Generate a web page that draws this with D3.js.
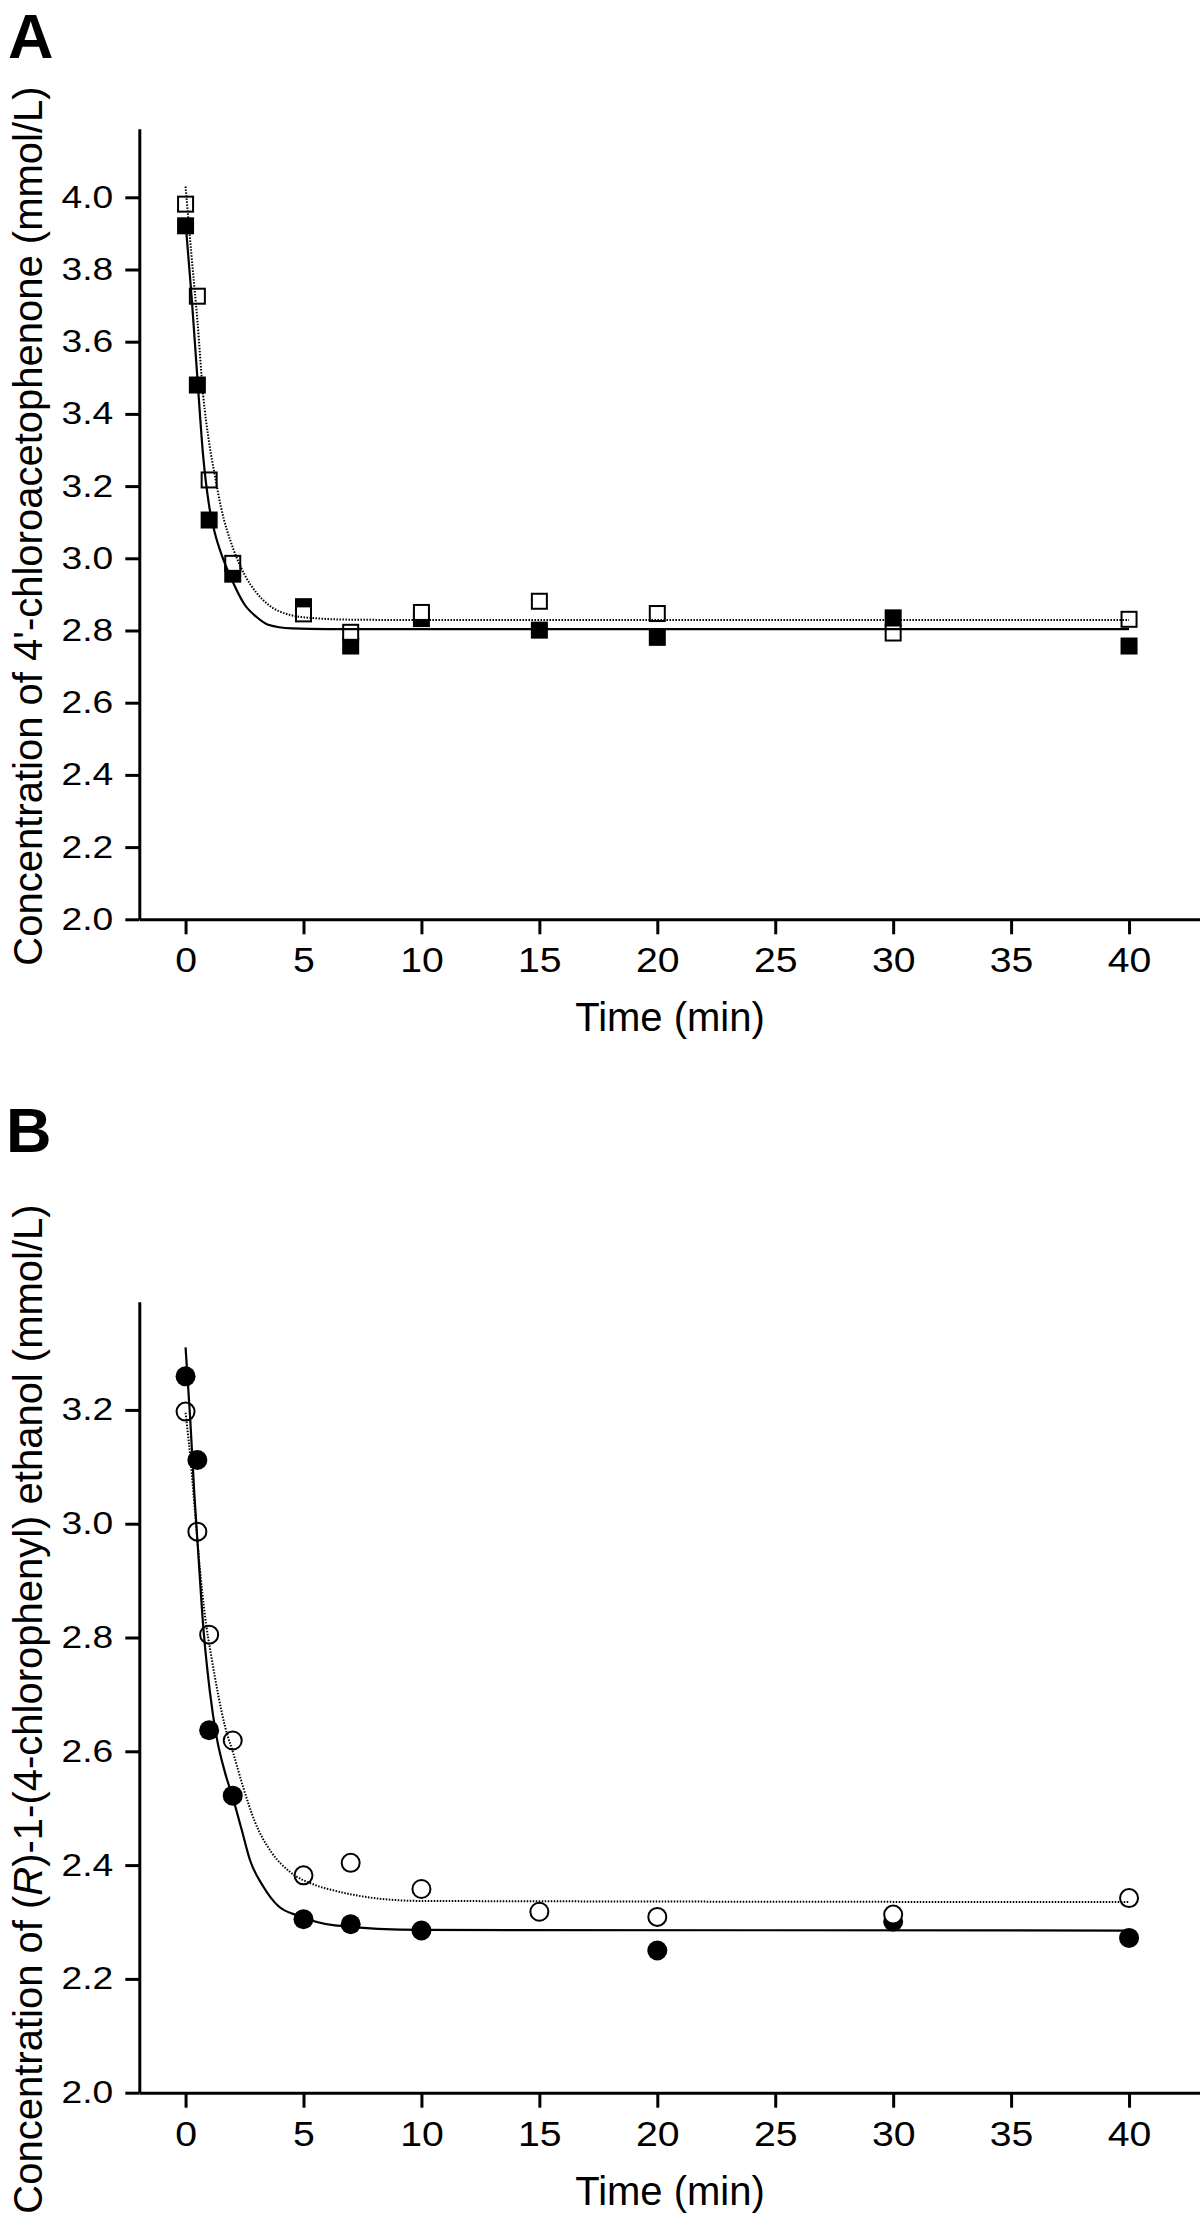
<!DOCTYPE html>
<html><head><meta charset="utf-8">
<script src="https://cdn.jsdelivr.net/npm/d3@7"></script>
<style>
body{margin:0;background:#fff}
text{font-family:"Liberation Sans",Arial,Helvetica,sans-serif;fill:#000}
</style>
</head><body>
<svg id="chart" width="1200" height="2215"></svg>
<script>
// ---------- data ----------
const times = [0, 0.5, 1, 2, 5, 7, 10, 15, 20, 30, 40];
const xTicks = [0, 5, 10, 15, 20, 25, 30, 35, 40];

// Panel A: 4'-chloroacetophenone
const ketoneClosed = [3.921, 3.480, 3.106, 2.956, 2.866, 2.757, 2.833, 2.801, 2.781, 2.835, 2.757];
const ketoneOpen   = [3.981, 3.726, 3.217, 2.986, 2.846, 2.795, 2.850, 2.881, 2.847, 2.793, 2.831];
const ketoneSolidT = [0, 0.25, 0.5, 0.75, 1.0, 1.25, 1.5, 2.0, 2.5, 3.0, 3.5, 4.5, 6, 10, 40];
const ketoneSolidV = [3.93, 3.73, 3.50, 3.28, 3.145, 3.068, 3.015, 2.935, 2.872, 2.838, 2.816, 2.806, 2.804, 2.804, 2.804];
const ketoneDotT   = [0, 0.25, 0.5, 0.75, 1.0, 1.25, 1.5, 2.0, 2.5, 3.0, 3.5, 4.5, 5.5, 7, 10, 40];
const ketoneDotV   = [4.03, 3.84, 3.66, 3.45, 3.32, 3.226, 3.142, 3.03, 2.955, 2.905, 2.872, 2.842, 2.834, 2.830, 2.829, 2.829];
const yTicksA = [2.0, 2.2, 2.4, 2.6, 2.8, 3.0, 3.2, 3.4, 3.6, 3.8, 4.0];

// Panel B: (R)-1-(4-chlorophenyl) ethanol
const alcoholClosed = [3.259, 3.112, 2.637, 2.522, 2.305, 2.296, 2.285, null, 2.250, 2.301, 2.272];
const alcoholOpen   = [3.197, 2.986, 2.805, 2.619, 2.382, 2.404, 2.358, 2.318, 2.309, 2.313, 2.342];
const alcoholSolidT = [0, 0.19, 0.37, 0.54, 0.75, 1.03, 1.32, 1.67, 2.02, 2.38, 2.73, 3.30, 3.93, 4.78, 6.33, 10, 40];
const alcoholSolidV = [3.31, 3.189, 3.054, 2.947, 2.819, 2.705, 2.624, 2.563, 2.516, 2.462, 2.409, 2.362, 2.328, 2.311, 2.294, 2.286, 2.285];
const alcoholDotT   = [0, 0.19, 0.40, 0.61, 0.82, 1.10, 1.39, 1.67, 2.02, 2.45, 2.94, 3.65, 4.43, 5.49, 6.33, 8, 10, 40];
const alcoholDotV   = [3.195, 3.122, 3.021, 2.920, 2.839, 2.765, 2.698, 2.644, 2.597, 2.536, 2.476, 2.422, 2.388, 2.365, 2.355, 2.342, 2.337, 2.335];
const yTicksB = [2.0, 2.2, 2.4, 2.6, 2.8, 3.0, 3.2];

// ---------- drawing ----------
const svg = d3.select("#chart");
const x = d3.scaleLinear().domain([-1.97, 43]).range([139.1, 1199.8]);

function drawPanel(o) {
  const g = svg.append("g");
  const y = d3.scaleLinear().domain(o.yDomain).range(o.yRange);

  // y axis
  const ya = g.append("g").attr("transform", "translate(139.3,0)")
    .call(d3.axisLeft(y).tickValues(o.yTicks).tickSize(14).tickSizeOuter(0).tickPadding(12).tickFormat(d3.format(".1f")));
  ya.selectAll("path,line").attr("stroke", "#000").attr("stroke-width", 3);
  ya.selectAll("text").attr("font-size", 31).attr("font-family", null)
    .attr("x", -26 / 1.2).attr("transform", "scale(1.2,1)");

  // x axis
  const xa = g.append("g").attr("transform", `translate(0,${o.yRange[0]})`)
    .call(d3.axisBottom(x).tickValues(xTicks).tickSize(15).tickSizeOuter(0).tickPadding(13));
  xa.selectAll("path,line").attr("stroke", "#000").attr("stroke-width", 3);
  xa.selectAll("text").attr("font-size", 35).attr("font-family", null)
    .attr("transform", "scale(1.12,1)");

  // markers: closed first, open (white fill) over them
  const closed = times.map((t, i) => [t, o.closed[i]]).filter(d => d[1] != null);
  const open = times.map((t, i) => [t, o.open[i]]).filter(d => d[1] != null);
  if (o.shape === "square") {
    g.selectAll(".c").data(closed).enter().append("rect")
      .attr("x", d => x(d[0]) - 8.5).attr("y", d => y(d[1]) - 8.5)
      .attr("width", 17).attr("height", 17).attr("fill", "#000");
    g.selectAll(".o").data(open).enter().append("rect")
      .attr("x", d => x(d[0]) - 7.5).attr("y", d => y(d[1]) - 7.5)
      .attr("width", 15).attr("height", 15).attr("fill", "#fff")
      .attr("stroke", "#000").attr("stroke-width", 2);
  } else {
    g.selectAll(".c").data(closed).enter().append("circle")
      .attr("cx", d => x(d[0])).attr("cy", d => y(d[1])).attr("r", 10).attr("fill", "#000");
    g.selectAll(".o").data(open).enter().append("circle")
      .attr("cx", d => x(d[0])).attr("cy", d => y(d[1])).attr("r", 9)
      .attr("fill", "#fff").attr("stroke", "#000").attr("stroke-width", 2);
  }

  // fitted curves
  const line = d3.line().x(d => x(d[0])).y(d => y(d[1])).curve(d3.curveMonotoneX);
  g.append("path").datum(o.solidT.map((t, i) => [t, o.solidV[i]]))
    .attr("d", line).attr("fill", "none").attr("stroke", "#000").attr("stroke-width", 2.2);
  g.append("path").datum(o.dotT.map((t, i) => [t, o.dotV[i]]))
    .attr("d", line).attr("fill", "none").attr("stroke", "#000").attr("stroke-width", 2)
    .attr("stroke-dasharray", "1.5,1.5");

  // panel letter
  g.append("text").attr("x", o.letterX).attr("y", o.letterY)
    .attr("font-size", 63).attr("font-weight", "bold").text(o.letter);

  // x title
  g.append("text").attr("x", 670).attr("y", o.yRange[0] + 112)
    .attr("text-anchor", "middle").attr("font-size", 40).text("Time (min)");

  // y title
  const yt = g.append("text")
    .attr("transform", `translate(42,${o.yTitleCenter}) rotate(-90)`)
    .attr("text-anchor", "middle").attr("font-size", 40);
  o.yTitle.forEach(p => {
    const ts = yt.append("tspan").text(p.t);
    if (p.i) ts.attr("font-style", "italic");
  });
}

drawPanel({
  letter: "A", letterX: 8, letterY: 58,
  yDomain: [2, 4.19], yRange: [919.3, 128.7], yTicks: yTicksA,
  closed: ketoneClosed, open: ketoneOpen, shape: "square",
  solidT: ketoneSolidT, solidV: ketoneSolidV, dotT: ketoneDotT, dotV: ketoneDotV,
  yTitleCenter: 526,
  yTitle: [{t: "Concentration of 4'-chloroacetophenone (mmol/L)"}]
});

drawPanel({
  letter: "B", letterX: 6, letterY: 1152,
  yDomain: [2, 3.39], yRange: [2092.7, 1301.8], yTicks: yTicksB,
  closed: alcoholClosed, open: alcoholOpen, shape: "circle",
  solidT: alcoholSolidT, solidV: alcoholSolidV, dotT: alcoholDotT, dotV: alcoholDotV,
  yTitleCenter: 1709,
  yTitle: [{t: "Concentration of ("}, {t: "R", i: true}, {t: ")-1-(4-chlorophenyl) ethanol (mmol/L)"}]
});
</script>
</body></html>
